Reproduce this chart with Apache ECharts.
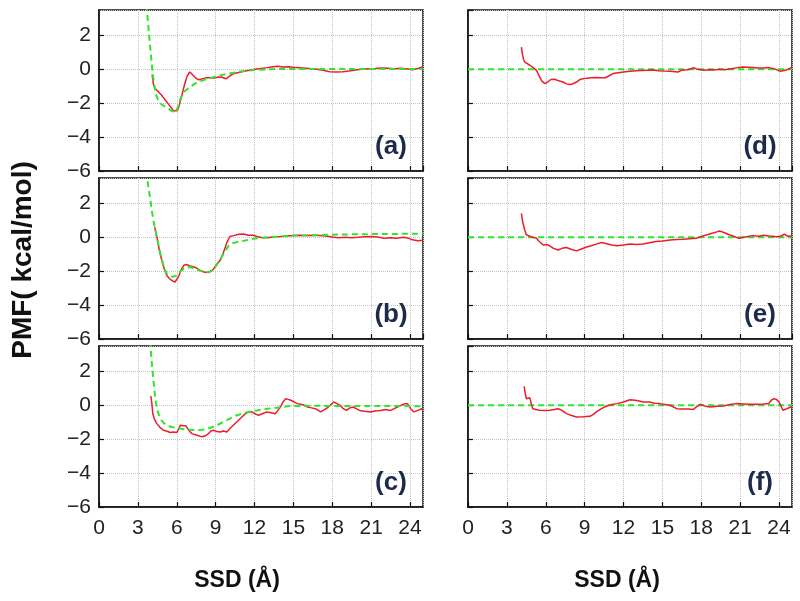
<!DOCTYPE html>
<html><head><meta charset="utf-8">
<script src="https://cdn.jsdelivr.net/npm/echarts@6/dist/echarts.min.js"></script>
<style>html,body{margin:0;padding:0;background:#fff}#c{width:800px;height:601px}</style>
</head><body><div id="c"></div>
<script>
// ---- data (x = SSD in Å, y = PMF in kcal/mol) ----
const panelLabels = ['(a)', '(b)', '(c)', '(d)', '(e)', '(f)'];
const xAxisTitle = 'SSD (Å)';
const yAxisTitle = 'PMF( kcal/mol)';

const redA = [[4.1,-0.3],[4.2,-0.9],[4.3,-1.1],[4.46,-1.24],[4.6,-1.35],[4.8,-1.5],[5.0,-1.7],[5.2,-1.9],[5.4,-2.1],[5.6,-2.3],[5.75,-2.45],[5.9,-2.55],[6.05,-2.45],[6.2,-2.1],[6.4,-1.5],[6.6,-0.9],[6.8,-0.4],[7.0,-0.16],[7.2,-0.3],[7.45,-0.5],[7.7,-0.62],[8.0,-0.55],[8.3,-0.5],[8.6,-0.48],[8.9,-0.52],[9.2,-0.45],[9.5,-0.47],[9.8,-0.56],[10.0,-0.45],[10.3,-0.28],[10.7,-0.2],[11.2,-0.12],[11.6,-0.06],[12.0,0.0],[12.5,0.05],[13.0,0.1],[13.4,0.15],[13.8,0.18],[14.2,0.14],[14.7,0.15],[15.2,0.1],[15.7,0.08],[16.2,0.05],[16.8,0.0],[17.3,-0.06],[17.8,-0.14],[18.3,-0.16],[18.8,-0.14],[19.3,-0.1],[19.8,-0.04],[20.3,0.0],[20.8,0.03],[21.3,0.05],[21.8,0.08],[22.3,0.06],[22.8,0.04],[23.3,0.06],[23.8,0.02],[24.2,-0.02],[24.6,0.05],[25,0.15]];
const greenA = [[3.65,3.8],[3.7,3.5],[3.8,2.6],[3.9,1.7],[4.0,0.9],[4.1,0.1],[4.2,-0.6],[4.3,-1.1],[4.45,-1.6],[4.6,-1.9],[4.8,-2.05],[5.0,-2.15],[5.3,-2.3],[5.6,-2.45],[5.9,-2.55],[6.1,-2.2],[6.3,-1.7],[6.6,-1.3],[7.0,-1.05],[7.5,-0.8],[8.0,-0.65],[9.0,-0.42],[10.0,-0.25],[11.0,-0.12],[12.0,-0.04],[13,0.0],[14,0.02],[25,0.02]];

const redB = [[4.3,0.6],[4.46,0.04],[4.65,-0.72],[4.85,-1.38],[5.05,-1.9],[5.23,-2.25],[5.45,-2.45],[5.65,-2.55],[5.85,-2.65],[6.0,-2.55],[6.15,-2.3],[6.35,-1.9],[6.55,-1.65],[6.75,-1.6],[6.95,-1.68],[7.2,-1.72],[7.5,-1.8],[7.8,-1.95],[8.1,-2.05],[8.45,-2.08],[8.75,-1.95],[9.05,-1.65],[9.36,-1.34],[9.6,-0.9],[9.87,-0.3],[10.1,0.05],[10.4,0.1],[10.8,0.18],[11.16,0.19],[11.5,0.12],[11.9,0.12],[12.2,0.05],[12.6,-0.03],[13.0,-0.02],[13.5,0.03],[14,0.05],[14.5,0.08],[15,0.1],[15.5,0.12],[16,0.1],[16.5,0.12],[17,0.1],[17.5,0.08],[18,0.02],[18.5,-0.02],[19,0.0],[19.5,-0.02],[20,0.0],[20.5,0.03],[21,0.05],[21.5,0.02],[22,-0.05],[22.5,-0.03],[23,-0.05],[23.5,0.0],[23.9,-0.06],[24.2,-0.15],[24.6,-0.2],[25,-0.18]];
const greenB = [[3.65,3.9],[3.7,3.6],[3.8,3.0],[3.95,2.3],[4.07,1.6],[4.2,1.0],[4.3,0.6],[4.46,0.04],[4.65,-0.7],[4.85,-1.34],[5.05,-1.85],[5.23,-2.15],[5.45,-2.3],[5.75,-2.32],[6.0,-2.25],[6.3,-2.0],[6.6,-1.82],[7.0,-1.75],[7.4,-1.85],[7.8,-1.98],[8.2,-2.05],[8.5,-2.05],[8.8,-1.9],[9.1,-1.6],[9.4,-1.25],[9.7,-0.85],[10.0,-0.5],[10.3,-0.35],[10.7,-0.27],[11.2,-0.2],[11.7,-0.12],[12.2,-0.05],[13,0.0],[14,0.05],[15,0.1],[17,0.14],[19,0.17],[21,0.19],[23,0.2],[25,0.22]];

const redC = [[4.0,0.55],[4.08,0.1],[4.15,-0.5],[4.3,-0.85],[4.46,-1.08],[4.7,-1.3],[4.97,-1.47],[5.2,-1.52],[5.5,-1.6],[5.75,-1.58],[6.0,-1.6],[6.15,-1.4],[6.27,-1.18],[6.5,-1.2],[6.7,-1.2],[6.9,-1.45],[7.17,-1.67],[7.5,-1.75],[7.94,-1.86],[8.2,-1.8],[8.45,-1.67],[8.65,-1.5],[8.84,-1.47],[9.1,-1.55],[9.36,-1.57],[9.6,-1.52],[9.87,-1.57],[10.1,-1.37],[10.4,-1.15],[10.77,-0.88],[11.0,-0.7],[11.3,-0.49],[11.55,-0.4],[11.8,-0.39],[12.05,-0.5],[12.3,-0.59],[12.6,-0.5],[12.9,-0.4],[13.2,-0.42],[13.6,-0.5],[13.8,-0.3],[14.0,-0.1],[14.2,0.2],[14.4,0.39],[14.6,0.35],[14.8,0.3],[15.05,0.2],[15.3,0.1],[15.55,0.06],[15.8,0.02],[16.1,-0.1],[16.4,-0.15],[16.7,-0.2],[17.1,-0.39],[17.4,-0.25],[17.7,-0.1],[18.1,0.2],[18.35,0.1],[18.6,0.0],[18.85,-0.2],[19.1,-0.3],[19.35,-0.15],[19.6,-0.1],[19.85,-0.2],[20.1,-0.3],[20.5,-0.35],[20.96,-0.39],[21.3,-0.33],[21.7,-0.3],[22.1,-0.25],[22.5,-0.3],[22.9,-0.15],[23.3,0.0],[23.55,0.08],[23.8,0.1],[24.05,-0.2],[24.3,-0.39],[24.6,-0.3],[24.9,-0.2],[25,-0.22]];
const greenC = [[3.95,3.8],[4.05,2.7],[4.2,1.47],[4.33,0.49],[4.45,-0.1],[4.59,-0.49],[4.8,-0.85],[5.0,-1.05],[5.23,-1.18],[5.6,-1.28],[6.0,-1.34],[6.5,-1.4],[7.0,-1.44],[7.5,-1.46],[8.0,-1.44],[8.5,-1.35],[9.1,-1.18],[9.6,-0.98],[10.1,-0.78],[10.6,-0.6],[11.2,-0.45],[11.7,-0.37],[12.2,-0.3],[13.0,-0.2],[13.7,-0.14],[14.7,-0.04],[16,-0.03],[20,-0.04],[25,-0.05]];

const redD = [[4.12,1.31],[4.2,0.9],[4.3,0.55],[4.38,0.43],[4.55,0.35],[4.77,0.24],[5.0,0.12],[5.28,-0.06],[5.5,-0.4],[5.7,-0.7],[5.92,-0.84],[6.15,-0.75],[6.4,-0.6],[6.7,-0.59],[7.0,-0.68],[7.34,-0.75],[7.6,-0.86],[7.85,-0.9],[8.1,-0.85],[8.37,-0.75],[8.6,-0.62],[8.88,-0.55],[9.2,-0.52],[9.5,-0.5],[9.9,-0.49],[10.2,-0.5],[10.6,-0.5],[10.9,-0.38],[11.2,-0.25],[11.6,-0.2],[12.0,-0.16],[12.5,-0.12],[13.0,-0.08],[13.4,-0.07],[13.8,-0.06],[14.3,-0.04],[14.7,-0.08],[15.1,-0.1],[15.6,-0.12],[16.2,-0.16],[16.5,-0.05],[16.9,-0.02],[17.2,0.02],[17.4,0.1],[17.7,0.0],[18.2,-0.06],[18.6,-0.02],[19.0,-0.04],[19.4,0.0],[19.8,-0.02],[20.3,0.04],[20.8,0.1],[21.2,0.14],[21.6,0.12],[22.0,0.1],[22.4,0.08],[22.8,0.08],[23.2,0.1],[23.6,0.04],[24.1,-0.12],[24.5,-0.06],[24.9,0.08],[25,0.1]];
const redE = [[4.12,1.41],[4.22,0.9],[4.38,0.43],[4.5,0.15],[4.64,0.04],[4.9,0.02],[5.1,-0.02],[5.28,-0.06],[5.5,-0.25],[5.8,-0.45],[6.05,-0.42],[6.3,-0.5],[6.6,-0.65],[6.96,-0.75],[7.25,-0.65],[7.6,-0.6],[7.95,-0.7],[8.37,-0.8],[8.7,-0.7],[9.1,-0.59],[9.5,-0.5],[9.9,-0.4],[10.3,-0.31],[10.7,-0.38],[11.1,-0.45],[11.5,-0.5],[12.0,-0.45],[12.5,-0.39],[13.0,-0.42],[13.5,-0.39],[14.0,-0.32],[14.5,-0.25],[15.0,-0.22],[15.6,-0.16],[16.1,-0.13],[16.6,-0.12],[17.1,-0.08],[17.6,-0.06],[18.0,0.05],[18.4,0.14],[18.9,0.25],[19.2,0.32],[19.4,0.37],[19.7,0.3],[20.2,0.14],[20.6,0.03],[20.9,-0.06],[21.3,0.0],[21.7,0.06],[22.0,0.1],[22.4,0.06],[22.8,0.12],[23.2,0.08],[23.5,0.06],[23.8,0.04],[24.1,0.06],[24.4,0.18],[24.7,0.06],[25,0.08]];
const redF = [[4.33,1.12],[4.42,0.7],[4.5,0.39],[4.65,0.42],[4.77,0.45],[4.88,0.1],[5.0,-0.2],[5.25,-0.25],[5.5,-0.29],[5.9,-0.3],[6.3,-0.29],[6.65,-0.25],[6.96,-0.2],[7.25,-0.3],[7.6,-0.49],[8.0,-0.6],[8.37,-0.69],[8.9,-0.68],[9.4,-0.65],[9.65,-0.55],[9.9,-0.39],[10.3,-0.2],[10.7,-0.04],[11.1,0.05],[11.5,0.1],[12.0,0.2],[12.5,0.33],[12.9,0.3],[13.2,0.25],[13.5,0.2],[14.0,0.2],[14.4,0.12],[14.8,0.1],[15.2,0.05],[15.6,0.0],[15.85,-0.1],[16.1,-0.2],[16.5,-0.22],[17.0,-0.22],[17.4,-0.24],[17.6,-0.1],[17.9,0.06],[18.3,-0.05],[18.7,-0.1],[19.2,-0.05],[19.7,-0.04],[20.2,0.05],[20.7,0.1],[21.2,0.08],[21.7,0.06],[22.3,0.06],[22.8,0.08],[23.2,0.1],[23.4,0.3],[23.6,0.39],[23.8,0.35],[24.0,0.2],[24.15,-0.05],[24.3,-0.29],[24.45,-0.2],[24.6,-0.2],[24.75,-0.3],[24.9,-0.1],[25,-0.1]];
const greenFlat = [[0,0],[25,0]];

const redSeries = [redA, redB, redC, redD, redE, redF];
const greenSeries = [greenA, greenB, greenC, greenFlat, greenFlat, greenFlat];

// ---- layout ----
const colLeft = [99, 468];
const rowTop = [10, 178, 346];
const PW = 324, PH = 161;
const FONT = '"Liberation Sans", Arial, sans-serif';

const grids = [], xAxes = [], yAxes = [], series = [], graphics = [];
for (let i = 0; i < 6; i++) {
  const col = i < 3 ? 0 : 1, row = i % 3;
  grids.push({ left: colLeft[col], top: rowTop[row], width: PW, height: PH,
    show: true, borderColor: '#111', borderWidth: 1.5, backgroundColor: '#fff' });
  xAxes.push({
    type: 'value', gridIndex: i, min: 0, max: 25, interval: 3,
    axisLine: { show: true, onZero: false, lineStyle: { color: '#111', width: 1.5 } },
    axisTick: { show: true, inside: true, length: 5, lineStyle: { color: '#111', width: 1.2 } },
    axisLabel: { show: row === 2, showMaxLabel: false, fontSize: 21, color: '#222', margin: 11, fontFamily: FONT },
    splitLine: { show: true, lineStyle: { type: 'dotted', color: '#c4c4c4', width: 1 } }
  });
  yAxes.push({
    type: 'value', gridIndex: i, min: -6, max: 3.5, interval: 2,
    axisLine: { show: true, onZero: false, lineStyle: { color: '#111', width: 1.5 } },
    axisTick: { show: true, inside: true, length: 5, lineStyle: { color: '#111', width: 1.2 } },
    axisLabel: { show: col === 0, showMaxLabel: false, fontSize: 21, color: '#222', margin: 8, fontFamily: FONT,
      formatter: v => String(v).replace('-', '\u2212') },
    splitLine: { show: true, lineStyle: { type: 'dotted', color: '#c4c4c4', width: 1 } }
  });
  series.push({
    type: 'line', xAxisIndex: i, yAxisIndex: i, data: redSeries[i],
    showSymbol: false, symbol: 'none', lineStyle: { color: '#ee1c2a', width: 1.5 }, z: col === 0 ? 2 : 4
  });
  series.push({
    type: 'line', xAxisIndex: i, yAxisIndex: i, data: greenSeries[i],
    showSymbol: false, symbol: 'none', lineStyle: { color: '#2ee62e', width: 2, type: [6, 4] }, z: 3
  });
  graphics.push({
    type: 'text', x: colLeft[col] + PW - 32, y: rowTop[row] + PH - 24, z: 10,
    style: { text: panelLabels[i], fill: '#1c2b4a', font: 'bold 26px ' + FONT,
      textAlign: 'center', textVerticalAlign: 'middle', align: 'center', verticalAlign: 'middle' }
  });
}
graphics.push({
  type: 'text', x: 23, y: 260, rotation: Math.PI / 2, z: 10,
  style: { text: yAxisTitle, fill: '#111', font: 'bold 28px ' + FONT,
    textAlign: 'center', textVerticalAlign: 'middle', align: 'center', verticalAlign: 'middle' }
});
[237, 617].forEach(cx => graphics.push({
  type: 'text', x: cx, y: 581, z: 10,
  style: { text: xAxisTitle, fill: '#111', font: 'bold 23px ' + FONT,
    textAlign: 'center', textVerticalAlign: 'middle', align: 'center', verticalAlign: 'middle' }
}));

const chart = echarts.init(document.getElementById('c'));
chart.setOption({
  backgroundColor: '#fff', animation: false,
  grid: grids, xAxis: xAxes, yAxis: yAxes, series: series, graphic: graphics
});
</script>
</body></html>
